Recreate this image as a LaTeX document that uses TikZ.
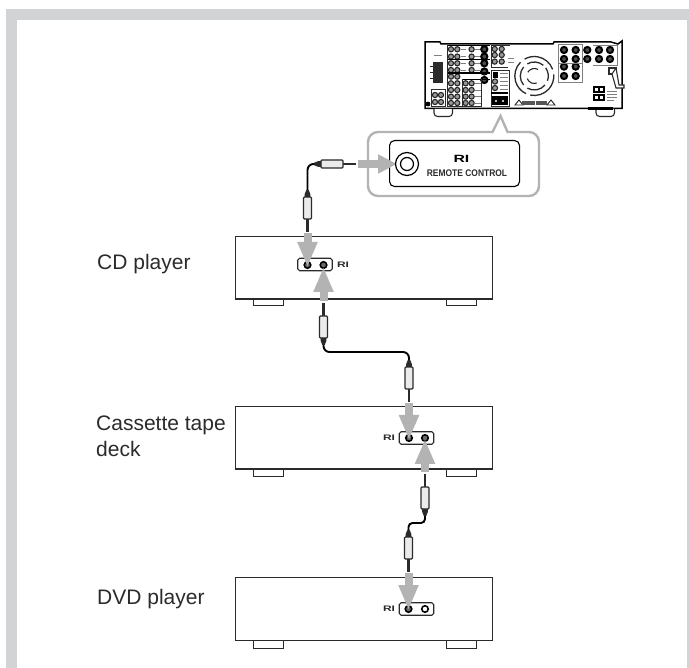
\documentclass[tikz,border=0pt]{standalone}
\usepackage{fontspec}
\setmainfont{Liberation Sans}
\usetikzlibrary{arrows.meta}
\definecolor{framegray}{HTML}{D1D3D4}
\definecolor{arrowgray}{HTML}{B3B3B3}
\definecolor{inkgray}{HTML}{2B2B2B}
\tikzset{
  x=1pt,y=-1pt,
  devbox/.style={draw=inkgray,line width=1.2pt,fill=white,rectangle,inner sep=0pt,anchor=north west,minimum width=257pt,minimum height=62.5pt},
  footbox/.style={draw=inkgray,line width=1pt,fill=white,rectangle,inner sep=0pt,anchor=north west,minimum width=30pt,minimum height=7.5pt},
  panelbox/.style={draw=inkgray,line width=1.1pt,fill=white,rectangle,rounded corners=1.8pt,inner sep=0pt,minimum width=34.5pt,minimum height=12.5pt},
  jackdark/.style={draw=black,line width=1.6pt,fill=arrowgray!60!black,circle,inner sep=0pt,minimum size=6.5pt},
  jacklight/.style={draw=black,line width=1.6pt,fill=white,circle,inner sep=0pt,minimum size=6.5pt},
  flowarrow/.style={draw=arrowgray,line width=8pt,-{Triangle[width=18.5pt,length=25pt]}},
  flowarrowb/.style={draw=arrowgray,line width=7.5pt,-{Triangle[width=18pt,length=19pt]}},
  cable/.style={draw=black,line width=1.9pt},
  devlabel/.style={font=\fontsize{21}{26}\selectfont,text=inkgray,inner sep=0pt,anchor=north west,align=left},
  logosmall/.style={font=\fontsize{8}{8}\selectfont\bfseries,text=inkgray,inner sep=0pt},
  logobig/.style={font=\fontsize{10.5}{11}\selectfont\bfseries,text=black,inner sep=0pt},
  ringjack/.style={draw=black!85,line width=1.1pt,fill=white!60!black},
  plug/.pic={
    \draw[inkgray,line width=2.2pt] (0,0) -- (-13,0);
    \draw[inkgray,line width=1.2pt,fill=white!92!black,rounded corners=1pt] (-13,-4) rectangle (-35,4);
    \fill[inkgray] (-35,-2.8) -- (-38,-2.8) -- (-42,-1.2) -- (-42,1.2) -- (-38,2.8) -- (-35,2.8) -- cycle;
    \coordinate (-tail) at (-42,0);
    \coordinate (-tip) at (0,0);
  }
}
\newcommand{\rj}[2]{\draw[ringjack] (#1,#2) circle (2.6pt);}
\newcommand{\rjk}[2]{\draw[draw=black,line width=2pt,fill=white!30!black] (#1,#2) circle (3.1pt);}
\begin{document}
\begin{tikzpicture}
\useasboundingbox (0,0) rectangle (689,668);
% frame
\fill[framegray] (6,9) rectangle (689,668);
\fill[white] (17,20) rectangle (687,668);

% receiver
\draw[black,line width=1.5pt] (425,42) -- (440,42) -- (441,44) -- (553,44) -- (554,42) -- (611,42) -- (618,44) -- (622,41) -- (622,108.5) -- (425,108.5) -- cycle;
\draw[inkgray,line width=1.1pt,fill=white] (434,109) -- (434,113) arc[start angle=180,end angle=270,radius=3.5pt] -- (449,116.5) arc[start angle=-90,end angle=0,radius=3.5pt] -- (452.5,109);
\draw[inkgray,line width=1.1pt,fill=white] (596,109) -- (596,113) arc[start angle=180,end angle=270,radius=3.5pt] -- (611,116.5) arc[start angle=-90,end angle=0,radius=3.5pt] -- (614.5,109);
\fill[black] (588,107.5) rectangle (613,110);
% left black block
\fill[inkgray] (433,62) rectangle (443,83);
\draw[inkgray,line width=.7pt] (430,66) -- (433,66) (430,72) -- (433,72) (430,78) -- (433,78);
\draw[gray,line width=.6pt] (434,55) -- (442,55);
% left rings
\foreach \yy in {49.3,56.6,63.3,70,76.6,83.3,90,96.6,103}{\rj{451}{\yy}\rj{457.3}{\yy}}
\foreach \yy in {49.3,56.6,63.3,70}{\rj{471.6}{\yy}\draw[gray,line width=.6pt] (461,\yy) -- (466,\yy) (475,\yy) -- (480,\yy);}
\foreach \yy in {83.3,90,96.6,103}{\rj{465.6}{\yy}\rj{471.6}{\yy}\draw[gray,line width=.6pt] (475,\yy) -- (481,\yy);}
\foreach \yy in {49.3,56.6,63.3,71.5,80}{\rjk{484.3}{\yy}}
\draw[black,line width=1.4pt] (447,45.5) -- (490,45.5) (447,59.5) -- (490,59.5) (447,73) -- (490,73) (462,79.5) -- (490,79.5);
\draw[inkgray,line width=.7pt] (447,45.5) -- (447,106) -- (481,106) -- (481,79.5) (462,79.5) -- (462,106);
\foreach \xx in {494.7,501.7}{\foreach \yy in {49,55,61.6}{\rj{\xx}{\yy}}}
\draw[inkgray,line width=.7pt] (491,45.5) -- (510,45.5) (491,67) -- (508,67) (491,45.5) -- (491,67);
\draw[gray,line width=.6pt] (508,58) -- (514,58) (508,62) -- (514,62);
% lower-left small bank
\draw[inkgray,line width=.8pt] (431,89) rectangle (445,106);
\foreach \xx in {435,441}{\foreach \yy in {95,102}{\rj{\xx}{\yy}}}
\fill[black] (428,104) circle (2.4pt);
% central group
\draw[inkgray,line width=.8pt] (491,70) rectangle (509,106);
\fill[black] (492.5,72.5) rectangle (497.5,78);
\rj{495}{81.5}\rj{495}{88}
\draw[gray,line width=.6pt] (500,73) -- (508,73) (500,77) -- (508,77) (500,81) -- (508,81) (500,85) -- (508,85) (500,89) -- (508,89);
\draw[black,line width=1.6pt] (491,93) -- (508,93);
\fill[black] (492,96.5) rectangle (508,105.5);
\fill[white] (496,101) circle (1.1pt) (503,101) circle (1.1pt);
% fan
\foreach \a/\b in {20/120,135/245,258/365}{
  \draw[inkgray,line width=1.3pt] (534.3,76) ++(\a:19.5pt) arc[start angle=\a,end angle=\b,radius=19.5pt];}
\foreach \a/\b in {50/120,140/220,240/320,340/395}{
  \draw[inkgray,line width=1.3pt] (534.3,76) ++(\a:14pt) arc[start angle=\a,end angle=\b,radius=14pt];}
\draw[inkgray,line width=1.1pt] (534.3,76) ++(60:7.5pt) arc[start angle=60,end angle=150,radius=7.5pt];
\draw[inkgray,line width=1.1pt] (534.3,76) ++(200:7.5pt) arc[start angle=200,end angle=290,radius=7.5pt];
% bottom terminal
\draw[inkgray,line width=.9pt] (515,105) -- (519,100) -- (523,105) -- cycle;
\draw[inkgray,line width=.9pt] (547,105) -- (551,100) -- (555,105) -- cycle;
\fill[inkgray!80] (522,101) rectangle (547,105);
\draw[white,line width=.5pt] (535,101) -- (535,105);
% right bank
\foreach \xx in {564,575.7,587.3,599,610}{\foreach \yy in {50,59}{\rjk{\xx}{\yy}}}
\foreach \xx in {564,575.7}{\foreach \yy in {66.6,76}{\rjk{\xx}{\yy}}}
\draw[gray,line width=.6pt] (558,44) -- (582,44) -- (582,82) -- (558,82) -- cycle (558,63) -- (582,63);
\draw[gray,line width=.6pt] (593,45) -- (617,45) -- (617,65) -- (593,65);
% power inlet and cord
\draw[inkgray,line width=1.1pt,fill=white] (609,68) rectangle (616,74);
\draw[inkgray,line width=1.1pt,fill=white] (612,74) -- (616,88) -- (624,88) -- (624,85) -- (619,85) -- (616,68) -- cycle;
% outlets
\foreach \yy in {87,95}{
  \draw[black,line width=1.2pt] (594,\yy) rectangle (604,\yy+5);
  \draw[black,line width=1.2pt] (599,\yy) -- (599,\yy+5);
}
\draw[gray,line width=.5pt] (607,91) -- (617,91) (607,94) -- (617,94) (607,97) -- (617,97) (607,100) -- (614,100);

% callout
\draw[arrowgray,line width=2.4pt,fill=white,rounded corners=10pt]
  (492,132) -- (368,132) -- (368,196) -- (539,196) -- (539,132) -- (508,132);
\draw[arrowgray,line width=2.4pt,line join=miter] (492,133) -- (500.5,116) -- (508,133);
\node[draw=black,line width=1.1pt,fill=white,rectangle,rounded corners=5pt,inner sep=0pt,minimum width=130pt,minimum height=46pt,anchor=north west] (rcpanel) at (389,140) {};
\node[logobig] (rclogo) at (461.5,158.5) {\scalebox{1.5}[1]{RI}};
\node[font=\fontsize{9.6}{10}\selectfont\bfseries,text=inkgray,inner sep=0pt] (rctext) at (467,173) {\scalebox{.88}[1]{REMOTE CONTROL}};
\coordinate (rcjack) at (407,164);
\coordinate (rcstart) at (358,164);

% devices
\node[footbox] (cdf1) at (253,298) {};
\node[footbox] (cdf2) at (446,298) {};
\node[devbox] (cd) at (235,236) {};
\node[footbox] (tf1) at (253,469) {};
\node[footbox] (tf2) at (446,469) {};
\node[devbox] (tape) at (235,406) {};
\node[footbox] (df1) at (253,640) {};
\node[footbox] (df2) at (446,640) {};
\node[devbox] (dvd) at (235,577) {};

\node[panelbox] (cdpanel) at (315,264.5) {};
\node[panelbox] (tapepanel) at (416.5,438) {};
\node[panelbox] (dvdpanel) at (416.5,609) {};
\node[jackdark] (cdin) at (307.5,265) {};
\node[jackdark] (cdout) at (323.5,265) {};
\node[jackdark] (tapein) at (409,438) {};
\node[jackdark] (tapeout) at (425,438) {};
\node[jackdark] (dvdin) at (408.5,609) {};
\node[jacklight] (dvdout) at (425,609) {};
\node[logosmall] (cdlogo) at (343,265) {\scalebox{1.5}[1]{RI}};
\node[logosmall] (tapelogo) at (389,438) {\scalebox{1.5}[1]{RI}};
\node[logosmall] (dvdlogo) at (389,609) {\scalebox{1.5}[1]{RI}};

% labels
\node[devlabel] (cdlabel) at (97,254.5) {CD player};
\node[devlabel] (tapelabel) at (96,415.5) {Cassette tape\\deck};
\node[devlabel] (dvdlabel) at (97,589.5) {DVD player};

% plugs
\pic (p1) at (356,164) {plug};
\pic[rotate=-90] (p2) at (307.5,232) {plug};
\pic[rotate=90] (p3) at (323.5,303) {plug};
\pic[rotate=-90] (p4) at (409,402) {plug};
\pic[rotate=90] (p5) at (425,474) {plug};
\pic[rotate=-90] (p6) at (408.5,572) {plug};
\coordinate (c2m) at (0,352);
\coordinate (c3m) at (0,523);
\coordinate (c1m) at (307.5,164);
\draw[cable,rounded corners=6pt] (p1-tail) -- (c1m) -- (p2-tail);
\draw[cable,rounded corners=6pt] (p3-tail) -- (p3-tail |- c2m) -- (p4-tail |- c2m) -- (p4-tail);
\draw[cable,rounded corners=4pt] (p5-tail) -- (p5-tail |- c3m) -- (p6-tail |- c3m) -- (p6-tail);

% flow arrows
\coordinate (a1s) at (307.5,233);
\coordinate (a2s) at (323.5,301);
\coordinate (a3s) at (409,403);
\coordinate (a4s) at (425,472);
\coordinate (a5s) at (408.5,573);
\draw[flowarrow] (a1s) -- (307.5,267);
\draw[flowarrow] (a2s) -- (323.5,267);
\draw[flowarrow] (a3s) -- (409,440);
\draw[flowarrow] (a4s) -- (425,439);
\draw[flowarrow] (a5s) -- (408.5,610);
\draw[flowarrowb] (rcstart) -- (397,164);
% receiver jack on top of arrow
\draw[black,line width=1.2pt] (rcjack) circle (11.5pt);
\draw[black,line width=1.2pt] (rcjack) circle (6.5pt);
\end{tikzpicture}
\end{document}
